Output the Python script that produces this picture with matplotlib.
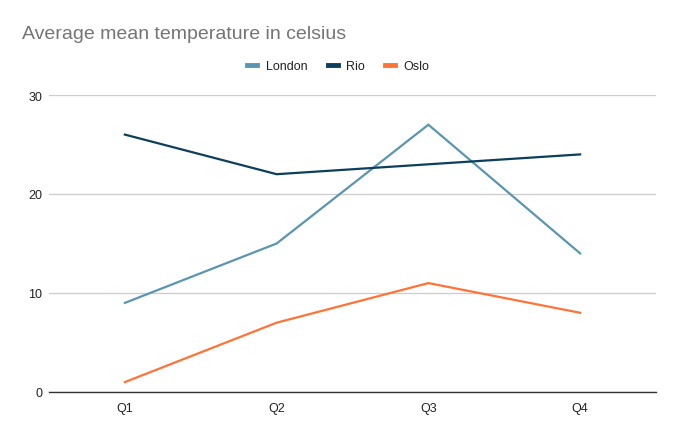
import matplotlib
matplotlib.use("Agg")
import matplotlib.pyplot as plt

quarters = ["Q1", "Q2", "Q3", "Q4"]
london = [9, 15, 27, 14]
rio = [26, 22, 23, 24]
oslo = [1, 7, 11, 8]

plt.rcParams["font.family"] = ["Liberation Sans", "DejaVu Sans"]

colors = {"London": "#5a95b2", "Rio": "#0b3f5c", "Oslo": "#ff7337"}

fig = plt.figure(figsize=(6.77, 4.35), dpi=100)
ax = fig.add_axes([0.0724, 0.0966, 0.8966, 0.6827])

x = range(len(quarters))
for name, values in (("London", london), ("Rio", rio), ("Oslo", oslo)):
    ax.plot(x, values, color=colors[name], lw=1.6, label=name, solid_joinstyle="miter")

ax.set_xlim(-0.5, len(quarters) - 0.5)
ax.set_ylim(0, 30)
ax.set_yticks([0, 10, 20, 30])
ax.set_xticks(list(x))
ax.set_xticklabels(quarters)
ax.tick_params(length=0, labelsize=9, labelcolor="#222222")
ax.tick_params(axis="y", pad=5)
ax.tick_params(axis="x", pad=7)
ax.grid(axis="y", color="#cccccc", lw=0.9)
ax.set_axisbelow(True)
for side in ("top", "right", "left"):
    ax.spines[side].set_visible(False)
ax.spines["bottom"].set_color("#333333")
ax.spines["bottom"].set_linewidth(1.0)

fig.text(0.0325, 0.92, "Average mean temperature in celsius", fontsize=14,
         color="#757575", va="center", ha="left")
fig.legend(loc="center", bbox_to_anchor=(0.5, 0.846), ncol=3, frameon=False,
           fontsize=9, handlelength=0.8, handletextpad=0.7, columnspacing=1.6,
           labelcolor="#222222")
for line in fig.legends[0].get_lines():
    line.set_linewidth(3.5)

fig.savefig("out.png", dpi=100)
